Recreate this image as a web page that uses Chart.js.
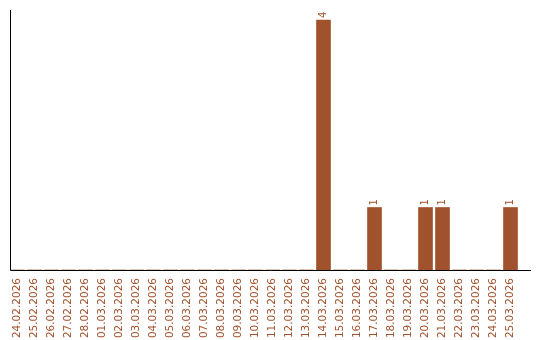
<!DOCTYPE html>
<html>
<head>
<meta charset="utf-8">
<script src="https://cdn.jsdelivr.net/npm/chart.js@4/dist/chart.umd.min.js"></script>
<style>
  html, body { margin: 0; padding: 0; background: #fff; }
  #wrap { width: 540px; height: 340px; }
</style>
</head>
<body>
<div id="wrap"><canvas id="chart" width="540" height="340"></canvas></div>
<script>
// chart data
const dates = [
    '24.02.2026', '25.02.2026', '26.02.2026', '27.02.2026', '28.02.2026',
    '01.03.2026', '02.03.2026', '03.03.2026', '04.03.2026', '05.03.2026',
    '06.03.2026', '07.03.2026', '08.03.2026', '09.03.2026', '10.03.2026',
    '11.03.2026', '12.03.2026', '13.03.2026', '14.03.2026', '15.03.2026',
    '16.03.2026', '17.03.2026', '18.03.2026', '19.03.2026', '20.03.2026',
    '21.03.2026', '22.03.2026', '23.03.2026', '24.03.2026', '25.03.2026'
];
const counts = [
    0, 0, 0, 0, 0,
    0, 0, 0, 0, 0,
    0, 0, 0, 0, 0,
    0, 0, 0, 4, 0,
    0, 1, 0, 0, 1,
    1, 0, 0, 0, 1
];

const barColor = '#a0522d';
const textColor = '#a0522d';
const fontFamily = '"DejaVu Sans", sans-serif';

// draws the two axis lines (left + bottom, bottom one runs a bit past the last bar)
const axisLines = {
    id: 'axisLines',
    afterDraw(chart) {
        const { ctx, chartArea } = chart;
        ctx.save();
        ctx.strokeStyle = '#000';
        ctx.lineWidth = 1;
        ctx.beginPath();
        ctx.moveTo(chartArea.left + 1.5, chartArea.top);
        ctx.lineTo(chartArea.left + 1.5, chartArea.bottom + 0.5);
        ctx.lineTo(chartArea.right + 12, chartArea.bottom + 0.5);
        ctx.stroke();
        ctx.restore();
    }
};

// rotated value above each non-zero bar
const valueLabels = {
    id: 'valueLabels',
    afterDatasetsDraw(chart) {
        const { ctx } = chart;
        const meta = chart.getDatasetMeta(0);
        ctx.save();
        ctx.fillStyle = textColor;
        ctx.font = '10px ' + fontFamily;
        ctx.textAlign = 'left';
        ctx.textBaseline = 'middle';
        meta.data.forEach((bar, i) => {
            const v = counts[i];
            if (!v) return;
            ctx.save();
            ctx.translate(bar.x, bar.y - 2);
            ctx.rotate(-Math.PI / 2);
            ctx.fillText(String(v), 0, 0);
            ctx.restore();
        });
        ctx.restore();
    }
};

new Chart(document.getElementById('chart').getContext('2d'), {
    type: 'bar',
    data: {
        labels: dates,
        datasets: [{
            data: counts,
            backgroundColor: barColor,
            borderWidth: 0,
            barThickness: 14
        }]
    },
    options: {
        responsive: false,
        animation: false,
        layout: { padding: { left: 9, right: 21, top: 10, bottom: 0 } },
        plugins: {
            legend: { display: false },
            tooltip: { enabled: false }
        },
        scales: {
            x: {
                offset: true,
                grid: { display: false, drawTicks: false },
                border: { display: false },
                ticks: {
                    color: textColor,
                    font: { family: fontFamily, size: 10.5 },
                    minRotation: 90,
                    maxRotation: 90,
                    autoSkip: false,
                    padding: 8
                },
                afterFit(scale) { scale.height = 70; }
            },
            y: {
                display: false,
                min: 0,
                max: 4.16
            }
        }
    },
    plugins: [axisLines, valueLabels]
});
</script>
</body>
</html>
